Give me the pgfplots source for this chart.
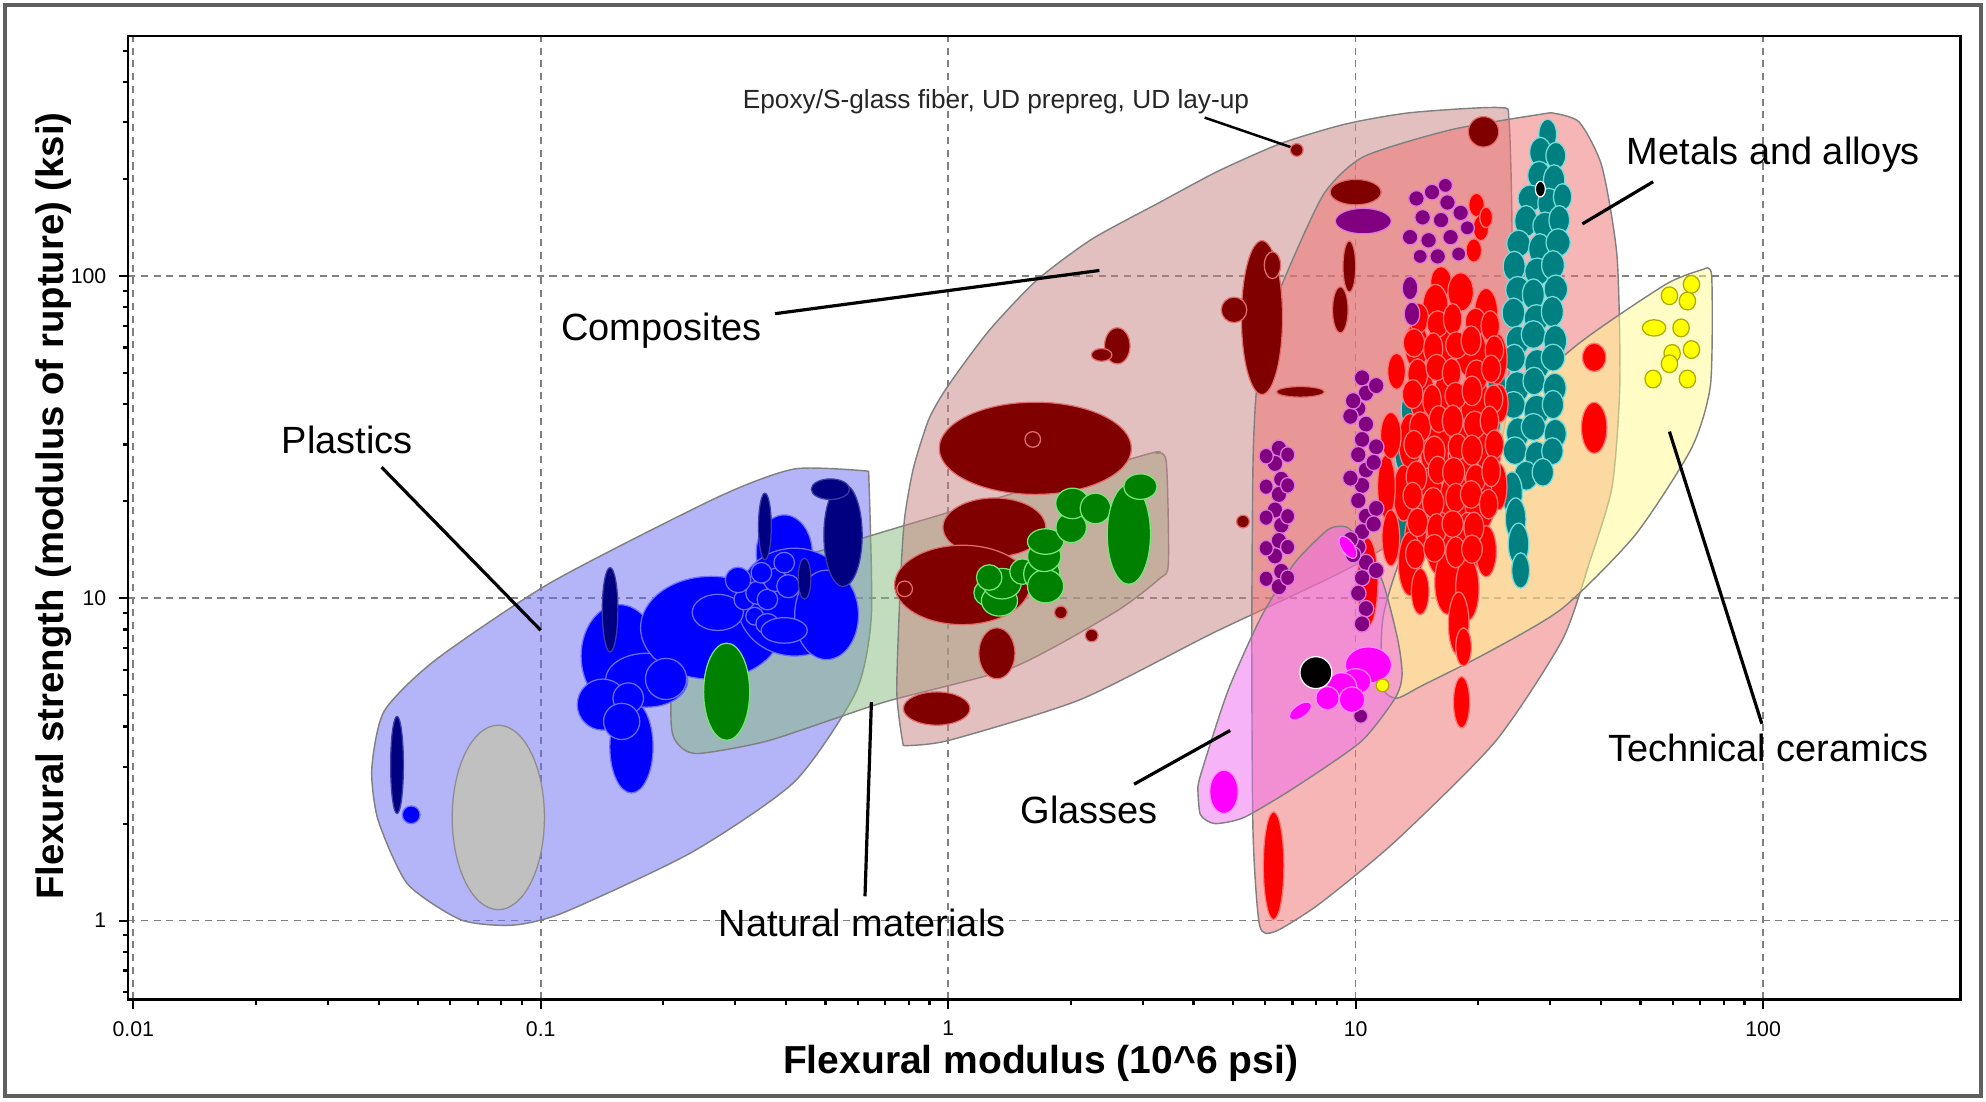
\documentclass[border=0pt]{standalone}
\usepackage{pgfplots}
\pgfplotsset{compat=1.18}
\usepackage{fontspec}
\setmainfont{Liberation Sans}

% hull fills (drawn at half opacity)
\definecolor{plastichull}{RGB}{105,105,241}
\definecolor{naturalhull}{RGB}{131,187,125}
\definecolor{compohull}{RGB}{200,130,130}
\definecolor{metalhull}{RGB}{240,110,110}
\definecolor{glasshull}{RGB}{238,105,238}
\definecolor{ceramhull}{RGB}{255,252,140}
% bubble colours
\definecolor{cblue}{RGB}{0,0,255}
\definecolor{cblueE}{RGB}{110,110,255}
\definecolor{cnavy}{RGB}{0,0,128}
\definecolor{cnavyE}{RGB}{60,60,170}
\definecolor{cgrey}{RGB}{192,192,192}
\definecolor{cgreyE}{RGB}{140,140,140}
\definecolor{cgreen}{RGB}{0,128,0}
\definecolor{cgreenE}{RGB}{120,230,120}
\definecolor{cdred}{RGB}{128,0,0}
\definecolor{cdredE}{RGB}{225,110,110}
\definecolor{cred}{RGB}{255,0,0}
\definecolor{credE}{RGB}{255,120,120}
\definecolor{cteal}{RGB}{0,128,128}
\definecolor{ctealE}{RGB}{120,220,220}
\definecolor{cpurple}{RGB}{128,0,128}
\definecolor{cpurpleE}{RGB}{220,120,220}
\definecolor{cmag}{RGB}{255,0,255}
\definecolor{cmagE}{RGB}{255,140,255}
\definecolor{cyel}{RGB}{255,255,0}
\definecolor{cyelE}{RGB}{170,170,0}
\definecolor{frame}{RGB}{95,95,95}

\def\ellrot{0}
\pgfdeclareplotmark{ell}{%
  \pgfscope
  \pgftransformrotate{\ellrot}%
  \pgfpathellipse{\pgfpointorigin}{\pgfpoint{\ellrx pt}{0pt}}{\pgfpoint{0pt}{\ellry pt}}%
  \pgfusepathqfillstroke
  \endpgfscope}

\pgfplotsset{
  bubbles/.style 2 args={scatter, only marks, mark=ell,
    point meta=\thisrow{rx}, point meta min=0, point meta max=100,
    visualization depends on={\thisrow{rx}\as\ellrx},
    visualization depends on={\thisrow{ry}\as\ellry},
    scatter/use mapped color={draw=#1, fill=#2, line width=0.35pt}},
  hull/.style={draw=gray, fill=#1, fill opacity=0.5, line width=0.4pt,
    smooth, tension=0.4, mark=none},
}
\tikzset{lbl/.style={font=\fontsize{10.7}{12}\selectfont}}

\begin{document}
\begin{tikzpicture}
\begin{axis}[
  scale only axis, width=516.6pt, height=271.7pt,
  xmode=log, ymode=log,
  xmin=0.00971, xmax=305, ymin=0.569, ymax=556,
  log ticks with fixed point,
  /pgf/number format/assume math mode=true,
  tick align=outside, tick pos=left,
  major tick length=2.6pt, minor tick length=1.4pt,
  every tick/.style={black, line width=0.6pt},
  axis line style={line width=0.7pt},
  grid=major,
  major grid style={dash pattern=on 2pt off 1.6pt, color=gray, line width=0.45pt},
  ticklabel style={font=\fontsize{6}{7}\selectfont},
  xlabel={Flexural modulus (10\textasciicircum 6 psi)},
  ylabel={Flexural strength (modulus of rupture) (ksi)},
  xlabel style={font=\bfseries\fontsize{11}{13}\selectfont, at={(axis description cs:0.498,-0.0665)}, anchor=center},
  ylabel style={font=\bfseries\fontsize{10.8}{13}\selectfont, at={(axis description cs:-0.0406,0.512)}, anchor=center},
]

% ---- family envelopes ----
% plastics
\addplot[hull=plastichull] coordinates {
 (0.638,24.8) (0.420,25.2) (0.272,20.6) (0.106,11.2) (0.0552,6.44) (0.0413,4.47)
 (0.0385,2.96) (0.0399,2.05) (0.0471,1.30) (0.0638,1.005) (0.0853,0.968) (0.114,1.06)
 (0.235,1.63) (0.420,2.70) (0.594,5.13) (0.648,8.87) (0.638,24.8)};
% natural materials
\addplot[hull=naturalhull] coordinates {
 (3.23,28.1) (3.43,26.6) (3.47,12.8) (3.30,11.5) (2.56,9.04) (1.44,6.10) (0.696,4.76)
 (0.363,3.62) (0.244,3.30) (0.219,3.49) (0.209,4.08) (0.211,8.87) (0.235,10.5)
 (0.696,16.1) (2.96,27.6) (3.23,28.1)};
% composites
\addplot[hull=compohull] coordinates {
 (0.776,3.49) (1.00,3.62) (2.11,4.85) (4.48,7.82) (10.1,12.8) (19.5,22.2) (23.3,35.1)
 (24.2,115) (23.8,301) (22.5,333) (13.6,321) (9.44,296) (6.57,258) (4.58,211)
 (3.30,169) (2.25,130) (1.648,96.9) (1.261,67.8) (1.0,45.7) (0.897,36.0) (0.822,25.4)
 (0.782,17.8) (0.765,11.7) (0.748,5.13) (0.776,3.49)};
% metals and alloys
\addplot[hull=metalhull] coordinates {
 (30.1,321) (35.3,301) (40.2,219) (43.8,115) (44.5,46.1) (42.6,22.2) (37.4,12.8)
 (32.1,7.40) (22.0,3.59) (12.5,1.76) (8.17,1.13) (6.34,0.925) (5.81,0.968) (5.60,1.87)
 (5.56,7.40) (5.60,26.6) (5.73,46.1) (6.20,76.3) (7.06,115) (8.41,182) (10.5,235)
 (17.3,285) (30.1,321)};
% technical ceramics
\addplot[hull=ceramhull] coordinates {
 (71.6,105) (74.8,100) (74.3,46.1) (66.7,29.2) (48.5,15.7) (32.1,9.29) (20.9,6.75)
 (14.6,5.37) (12.6,4.90) (11.6,5.37) (11.7,8.87) (13.6,15.4) (20.9,33.5) (34.7,60.7)
 (57.7,94.2) (71.6,105)};
% glasses
\addplot[hull=glasshull] coordinates {
 (4.10,2.54) (4.16,2.82) (4.85,5.13) (5.85,8.71) (7.06,12.8) (8.53,16.3) (9.37,16.7)
 (9.93,15.8) (11.6,11.4) (12.7,7.40) (13.0,5.77) (12.5,4.90) (10.3,3.59) (7.06,2.58)
 (5.32,2.09) (4.51,2.00) (4.16,2.13) (4.10,2.54)};

% ---- material bubbles (rx, ry in pt) ----
\addplot[bubbles={cgreyE}{cgrey}] table {
x y rx ry
0.0787 2.09 13.0 26.0
};
\addplot[bubbles={cblueE}{cblue}] table {
x y rx ry
0.0481 2.13 2.5 2.5
0.156 6.62 10.8 14.5
0.167 3.46 6.1 13.0
0.182 5.57 11.6 7.6
0.262 8.10 19.9 14.5
0.396 13.8 7.9 10.8
0.420 9.73 16.3 15.2
0.503 8.88 9.0 12.6
0.142 4.68 7.2 7.2
0.164 4.90 4.3 4.3
0.158 4.15 5.1 5.1
0.203 5.62 5.8 5.8
0.272 9.04 7.2 5.1
0.316 9.91 2.9 2.9
0.340 10.4 3.25 3.25
0.360 9.91 2.9 2.9
0.335 8.80 2.5 2.5
0.376 11.4 3.25 3.25
0.396 12.9 2.9 2.9
0.348 12.0 2.9 2.9
0.305 11.4 3.6 3.6
0.405 10.9 3.25 3.25
0.360 8.33 3.25 2.9
0.396 7.95 6.5 3.6
};
\addplot[bubbles={cnavyE}{cnavy}] table {
x y rx ry
0.0444 3.04 1.8 13.7
0.148 9.21 2.2 11.9
0.355 16.7 1.8 9.4
0.552 15.7 5.4 14.5
0.514 21.8 5.4 2.9
0.444 11.5 1.8 5.8
};
\addplot[bubbles={cdredE}{cdred}] table {
x y rx ry
7.17 246 1.8 1.8
20.6 280 4.3 4.3
10.0 182 7.2 3.6
5.89 74.3 5.8 21.7
6.25 108 2.3 3.8
5.03 78.5 3.6 3.6
7.32 43.7 6.8 1.5
9.65 107 1.8 7.2
9.17 78.5 2.2 6.5
2.60 60.7 3.6 5.1
2.38 56.9 2.9 1.8
1.636 29.2 27.1 13.0
1.613 31.1 2.2 2.2
1.298 16.6 14.5 8.3
1.083 11.0 19.1 11.2
0.782 10.7 2.2 2.2
1.317 6.75 5.1 7.2
0.937 4.55 9.4 4.7
1.891 9.04 1.8 1.8
2.250 7.67 1.8 1.8
5.29 17.3 1.8 1.8
};
\addplot[bubbles={cgreenE}{cgreen}] table {
x y rx ry
0.286 5.13 6.5 13.7
1.243 10.4 3.6 3.6
1.336 9.82 5.1 4.3
1.356 11.1 5.4 4.3
1.261 11.6 3.6 3.6
1.522 12.1 3.6 3.6
1.697 11.9 5.1 5.1
1.734 10.9 5.1 4.7
1.721 13.5 4.7 4.3
1.734 15.0 5.1 3.6
2.004 16.6 4.3 4.3
2.018 19.7 4.7 4.3
2.299 19.0 4.3 4.3
2.776 15.8 6.1 14.1
2.963 22.2 4.7 3.6
};
\addplot[bubbles={ctealE}{cteal}] table {
x y rx ry
29.6 275 2.5 4.3
28.4 242 3.0 4.2
31.0 236 2.8 3.8
28.2 205 3.2 4.0
30.7 198 3.0 4.4
26.8 174 3.4 3.8
29.8 168 3.1 4.3
32.2 176 2.6 3.7
26.2 148 3.2 4.4
29.2 143 3.5 3.9
31.6 149 2.9 4.1
25.1 126 3.3 3.8
28.3 121 3.1 4.4
31.4 127 3.4 3.9
24.5 107 3.1 4.3
27.9 103 3.5 3.9
30.5 108 3.2 4.1
25.0 90.5 3.4 3.8
27.3 87.6 3.1 4.4
31.0 91.0 3.3 4.0
24.4 76.8 3.2 4.2
27.8 74.0 3.5 3.8
30.4 77.5 3.1 4.3
25.0 63.0 3.3 4.1
27.3 65.8 3.4 3.9
30.9 62.9 3.2 4.4
24.5 55.6 3.1 3.9
27.9 53.1 3.5 4.3
30.5 55.8 3.3 3.8
24.9 45.2 3.4 4.4
27.4 47.2 3.1 3.9
30.8 44.9 3.2 4.2
24.4 39.8 3.3 3.8
27.8 38.2 3.5 4.4
30.5 39.9 3.0 4.0
25.0 32.6 3.2 4.3
27.3 34.0 3.4 3.8
30.9 32.4 3.1 4.1
24.6 28.7 3.3 3.9
27.8 27.5 3.2 4.3
30.4 28.6 3.0 3.8
26.2 24.0 3.3 4.1
28.8 24.6 3.0 3.9
24.2 21.2 2.9 6.0
24.7 17.6 2.9 6.0
25.1 14.7 2.9 6.0
25.4 12.2 2.5 5.0
21.7 35.0 2.2 5.1
22.2 46.1 2.5 5.1
13.6 38.4 2.5 5.4
13.1 28.7 2.5 6.5
13.4 21.2 2.9 7.2
13.1 15.4 2.5 7.9
13.6 11.7 2.2 5.4
};
\addplot[bubbles={credE}{cred}] table {
x y rx ry
19.8 166 2.2 3.3
20.3 141 2.2 3.6
19.5 120 2.2 3.3
20.9 152 1.8 2.9
16.2 95.9 2.9 4.3
15.7 79.9 3.6 6.5
18.1 89.2 3.6 5.4
20.9 76.3 3.3 7.2
14.1 60.7 3.3 6.5
16.2 58.0 4.3 7.9
19.2 58.0 4.3 7.2
22.2 55.4 2.9 7.2
14.6 42.1 3.6 7.2
16.8 40.2 4.3 9.0
19.8 39.1 4.3 7.9
22.5 40.2 2.5 5.4
13.6 30.6 3.3 7.9
15.7 29.2 4.3 9.0
18.4 27.9 4.3 9.0
21.2 29.2 3.6 7.9
13.1 21.2 2.9 7.9
15.1 20.2 4.3 9.0
17.5 19.3 4.3 10.1
20.2 20.2 4.3 9.0
22.5 22.2 2.2 6.5
14.1 15.4 3.3 7.9
16.2 14.7 4.3 9.0
18.8 14.7 3.6 9.0
20.9 14.0 2.9 7.2
16.8 11.2 3.6 9.0
18.8 10.7 3.3 9.0
17.9 8.33 2.9 9.0
18.4 7.06 2.2 5.4
11.9 22.2 2.5 9.0
12.2 15.4 2.5 7.9
12.2 32.0 2.9 6.5
12.6 50.6 2.5 5.1
10.7 11.2 2.9 12.6
13.6 12.8 3.3 9.0
14.4 10.5 2.5 6.5
38.5 55.9 3.3 4.0
38.5 33.8 3.6 7.2
18.2 4.76 2.3 7.2
6.29 1.48 2.9 15.2
14.3 74.0 2.7 4.2
15.9 71.0 3.0 3.7
17.3 73.5 2.6 4.4
19.7 72.0 2.9 3.9
21.4 70.0 2.6 4.3
13.9 62.0 3.0 4.0
15.5 59.5 2.7 4.5
17.7 61.0 3.1 3.8
19.2 63.0 2.8 4.2
21.9 59.0 2.6 4.0
14.2 49.5 2.8 4.4
15.8 52.0 3.0 3.7
17.2 50.0 2.6 4.1
19.8 49.0 3.1 4.5
21.5 51.5 2.7 3.9
13.8 43.0 2.9 4.1
15.4 41.0 2.6 4.6
17.6 42.5 3.0 3.8
19.3 44.0 2.8 4.2
21.8 41.5 2.6 4.0
14.4 34.0 3.0 4.3
16.0 36.0 2.7 3.8
17.3 35.5 2.9 4.5
19.6 34.5 3.1 3.9
21.3 35.5 2.6 4.2
13.9 30.0 2.8 4.0
15.6 28.5 3.0 4.4
17.8 29.5 2.7 3.7
19.3 28.8 2.9 4.3
21.9 30.0 2.6 4.1
14.1 23.8 2.9 4.5
15.9 25.0 2.7 3.9
17.4 24.6 3.1 4.2
19.7 23.5 2.8 4.0
21.5 24.8 2.6 4.4
13.8 20.8 2.7 3.8
15.5 19.8 3.0 4.3
17.6 20.5 2.8 4.1
19.2 21.0 3.0 3.9
21.2 19.6 2.6 4.2
14.2 17.2 2.9 4.0
15.8 16.4 2.7 4.4
17.3 17.0 3.0 3.8
19.5 16.6 2.8 4.3
14.0 13.7 2.7 4.1
15.6 14.3 3.0 3.9
17.6 13.9 2.8 4.4
19.3 14.2 2.9 4.0
};
\addplot[bubbles={cpurpleE}{cpurple}] table {
x y rx ry
10.44 148 7.9 3.6
14.1 174 2.2 2.2
15.4 182 2.2 2.2
16.8 169 2.2 2.2
14.6 152 2.2 2.2
16.2 149 2.2 2.2
18.1 157 2.2 2.2
13.6 132 2.2 2.2
15.1 129 2.2 2.2
17.1 132 2.2 2.2
18.8 141 2.0 2.0
15.9 115 2.2 2.2
14.4 115 2.0 2.0
17.9 117 2.0 2.0
16.6 191 2.0 2.0
13.6 91.7 2.2 3.3
13.75 76.3 2.2 3.3
10.37 48.3 2.2 2.3
10.60 43.3 2.2 2.3
10.15 38.8 2.2 2.3
10.60 34.7 2.2 2.3
10.37 31.1 2.2 2.3
10.15 27.9 2.2 2.3
10.60 25.0 2.2 2.3
10.37 22.4 2.2 2.3
10.15 20.1 2.2 2.3
10.60 17.97 2.2 2.3
10.37 16.10 2.2 2.3
10.15 14.42 2.2 2.3
10.60 12.92 2.2 2.3
10.37 11.58 2.2 2.3
10.15 10.37 2.2 2.3
10.60 9.29 2.2 2.3
10.37 8.33 2.2 2.3
11.23 45.7 2.2 2.3
9.71 36.7 2.2 2.3
11.23 29.5 2.2 2.3
9.71 23.6 2.2 2.3
11.23 19.0 2.2 2.3
9.71 15.2 2.2 2.3
11.23 12.2 2.2 2.3
9.86 41.0 2.2 2.3
11.07 26.4 2.2 2.3
11.07 17.0 2.2 2.3
9.86 13.65 2.2 2.3
6.48 29.2 2.2 2.3
6.34 26.2 2.2 2.3
6.57 23.4 2.2 2.3
6.48 21.0 2.2 2.3
6.34 18.8 2.2 2.3
6.57 16.85 2.2 2.3
6.48 15.10 2.2 2.3
6.34 13.53 2.2 2.3
6.57 12.12 2.2 2.3
6.48 10.86 2.2 2.3
6.81 27.9 2.0 2.2
6.81 22.4 2.0 2.2
6.81 17.97 2.0 2.2
6.81 14.42 2.0 2.2
6.81 11.58 2.0 2.2
6.03 27.6 2.0 2.2
6.03 22.2 2.0 2.2
6.03 17.8 2.0 2.2
6.03 14.3 2.0 2.2
6.03 11.5 2.0 2.2
10.29 4.31 2.0 2.0
};
\addplot[bubbles={cmagE}{cmag}] table {
x y rx ry
10.75 6.21 6.5 5.1
10.0 5.52 4.3 3.6
9.24 5.27 4.3 4.3
8.53 4.90 3.3 3.3
9.79 4.85 3.6 3.6
4.75 2.51 4.0 6.1
};
\addplot[bubbles={cmagE}{cmag}, visualization depends on={\thisrow{rot}\as\ellrot}] table {
x y rx ry rot
7.32 4.47 3.6 1.8 35
9.57 14.4 3.6 1.8 -55
};
\addplot[bubbles={white}{black}] table {
x y rx ry
7.99 5.88 4.5 4.5
28.4 186 1.4 2.2
};
\addplot[bubbles={cyelE}{cyel}] table {
x y rx ry
11.64 5.37 1.8 1.8
66.7 94.2 2.3 2.5
58.9 86.8 2.3 2.5
65.2 83.6 2.3 2.5
54.0 69.0 3.3 2.3
62.9 69.0 2.3 2.5
66.7 59.1 2.3 2.5
59.8 57.5 2.3 2.5
58.9 53.4 2.3 2.5
53.7 47.9 2.3 2.5
65.2 47.9 2.3 2.5
};

% ---- annotations ----
\draw[line width=0.9pt] (axis cs:0.0407,25.5) -- (axis cs:0.1,7.96);
\draw[line width=0.9pt] (axis cs:0.376,76.4) -- (axis cs:2.35,104);
\draw[line width=0.7pt] (axis cs:4.26,310) -- (axis cs:7.06,249);
\draw[line width=0.9pt] (axis cs:53.7,196) -- (axis cs:36.0,145);
\draw[line width=0.9pt] (axis cs:99.3,4.08) -- (axis cs:58.9,32.9);
\draw[line width=0.9pt] (axis cs:2.86,2.65) -- (axis cs:4.92,3.89);
\draw[line width=0.9pt] (axis cs:0.625,1.19) -- (axis cs:0.648,4.76);
\node[lbl] at (axis cs:0.0335,31.1) {Plastics};
\node[lbl] at (axis cs:0.198,67.8) {Composites};
\node[font=\fontsize{7.4}{9}\selectfont, text=black!85] at (axis cs:1.31,346) {Epoxy/S-glass fiber, UD prepreg, UD lay-up};
\node[lbl] at (axis cs:106,238) {Metals and alloys};
\node[lbl] at (axis cs:103,3.43) {Technical ceramics};
\node[lbl] at (axis cs:2.22,2.21) {Glasses};
\node[lbl] at (axis cs:0.615,0.987) {Natural materials};
\end{axis}
\draw[line width=1.3pt, color=frame] (-34.65pt,-27.2pt) rectangle (522.35pt,280.35pt);
\pgfresetboundingbox
\path (-36.1pt,-28.65pt) rectangle (523.8pt,281.8pt);
\end{tikzpicture}
\end{document}
